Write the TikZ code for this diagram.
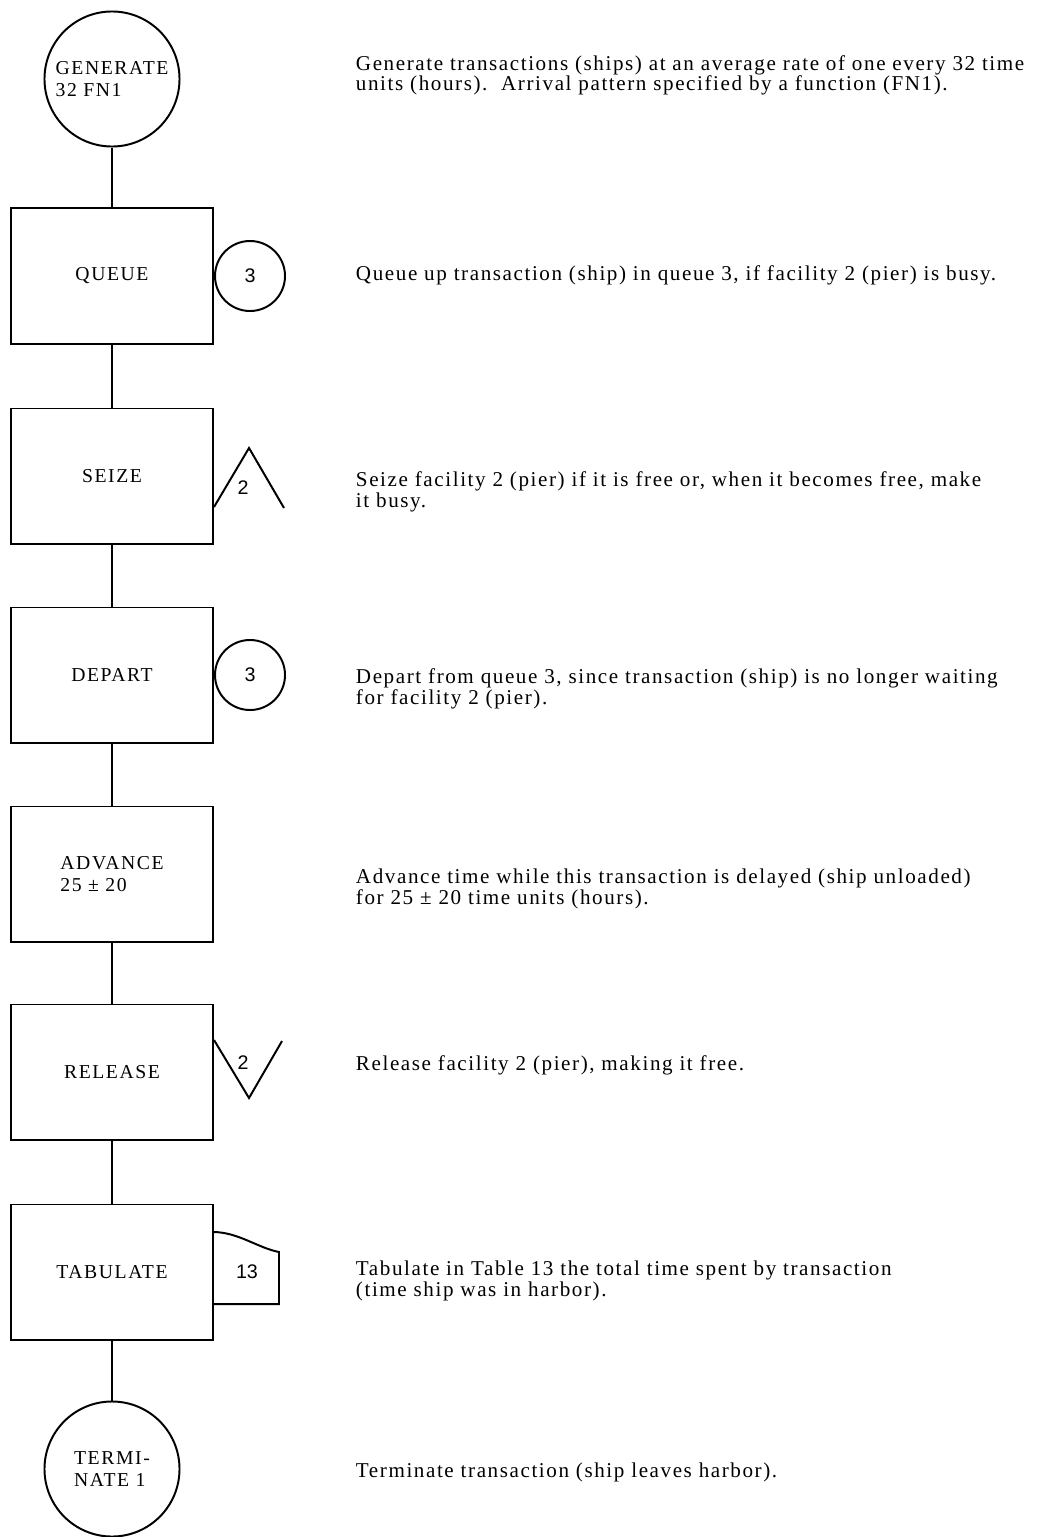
\documentclass[tikz,border=0pt]{standalone}
\usepackage{fontspec}
\setmainfont{Liberation Serif}[LetterSpace=8]
\newfontfamily\notefont{Liberation Serif}[LetterSpace=7.5]
\newfontfamily\numfont{Liberation Sans}
\usetikzlibrary{positioning}

\begin{document}
\begin{tikzpicture}[x=0.025cm,y=-0.025cm,line width=1.4pt,
  every node/.style={font=\fontsize{14}{16}\selectfont},
  blok/.style={draw,rectangle,minimum width=5.05cm,minimum height=3.375cm,inner sep=0pt,align=left},
  ends/.style={draw,circle,minimum size=3.375cm,inner sep=0pt,align=left},
  qring/.style={draw,circle,minimum size=1.75cm,inner sep=0pt,font=\numfont\fontsize{14}{16}\selectfont},
  tag/.style={inner sep=0pt,font=\numfont\fontsize{14}{16}\selectfont},
  note/.style={anchor=base west,align=left,inner sep=0pt,font=\notefont\fontsize{15}{14.5}\selectfont}]
  \useasboundingbox (0,0) rectangle (1044,1537);
  \node[ends] (gen) at (112,79) {GENERATE\\32 FN1};
  \node[blok] (queue) at (112,276) {QUEUE};
  \node[blok] (seize) at (112,476) {SEIZE};
  \node[blok] (depart) at (112,675) {DEPART};
  \node[blok] (adv) at (112,874) {ADVANCE\\25 ± 20};
  \node[blok] (rel) at (112,1072) {RELEASE};
  \node[blok] (tab) at (112,1272) {TABULATE};
  \node[ends] (term) at (112,1469) {TERMI-\\NATE 1};
  \draw (gen) -- (queue) -- (seize) -- (depart) -- (adv) -- (rel) -- (tab) -- (term);

  \node[qring,right=0pt of queue] (q3) {3};
  \node[qring,right=0pt of depart] (d3) {3};
  \draw (seize.east) ++(0,31) -- ++(35,-59) -- ++(35,60);
  \node[tag] (s2) at (243,488) {2};
  \draw (rel.east) ++(0,-32) -- ++(35,58) -- ++(33,-57);
  \node[tag] (r2) at (243,1063) {2};
  \draw (213,1232) .. controls (238,1232) and (258,1248) .. (279,1252)
    -- (279,1304) -- (213,1304);
  \node[tag] (t13) at (247,1272) {13};

  \node[note] (genN) at (355,91) {Generate transactions (ships) at an average rate of one every 32 time\\units (hours).\ \ Arrival pattern specified by a function (FN1).};
  \node[note] (queueN) at (355,280) {Queue up transaction (ship) in queue 3,\ if facility 2 (pier) is busy.};
  \node[note] (seizeN) at (355,507) {Seize facility 2 (pier) if it is free or,\ when it becomes free,\ make\\it busy.};
  \node[note] (departN) at (355,704) {Depart from queue 3,\ since transaction (ship) is no longer waiting\\for facility 2 (pier).};
  \node[note] (advN) at (355,904) {Advance time while this transaction is delayed (ship unloaded)\\for 25 ± 20 time units (hours).};
  \node[note] (relN) at (355,1070) {Release facility 2 (pier),\ making it free.};
  \node[note] (tabN) at (355,1296) {Tabulate in Table 13 the total time spent by transaction\\(time ship was in harbor).};
  \node[note] (termN) at (355,1477) {Terminate transaction (ship leaves harbor).};
\end{tikzpicture}
\end{document}
